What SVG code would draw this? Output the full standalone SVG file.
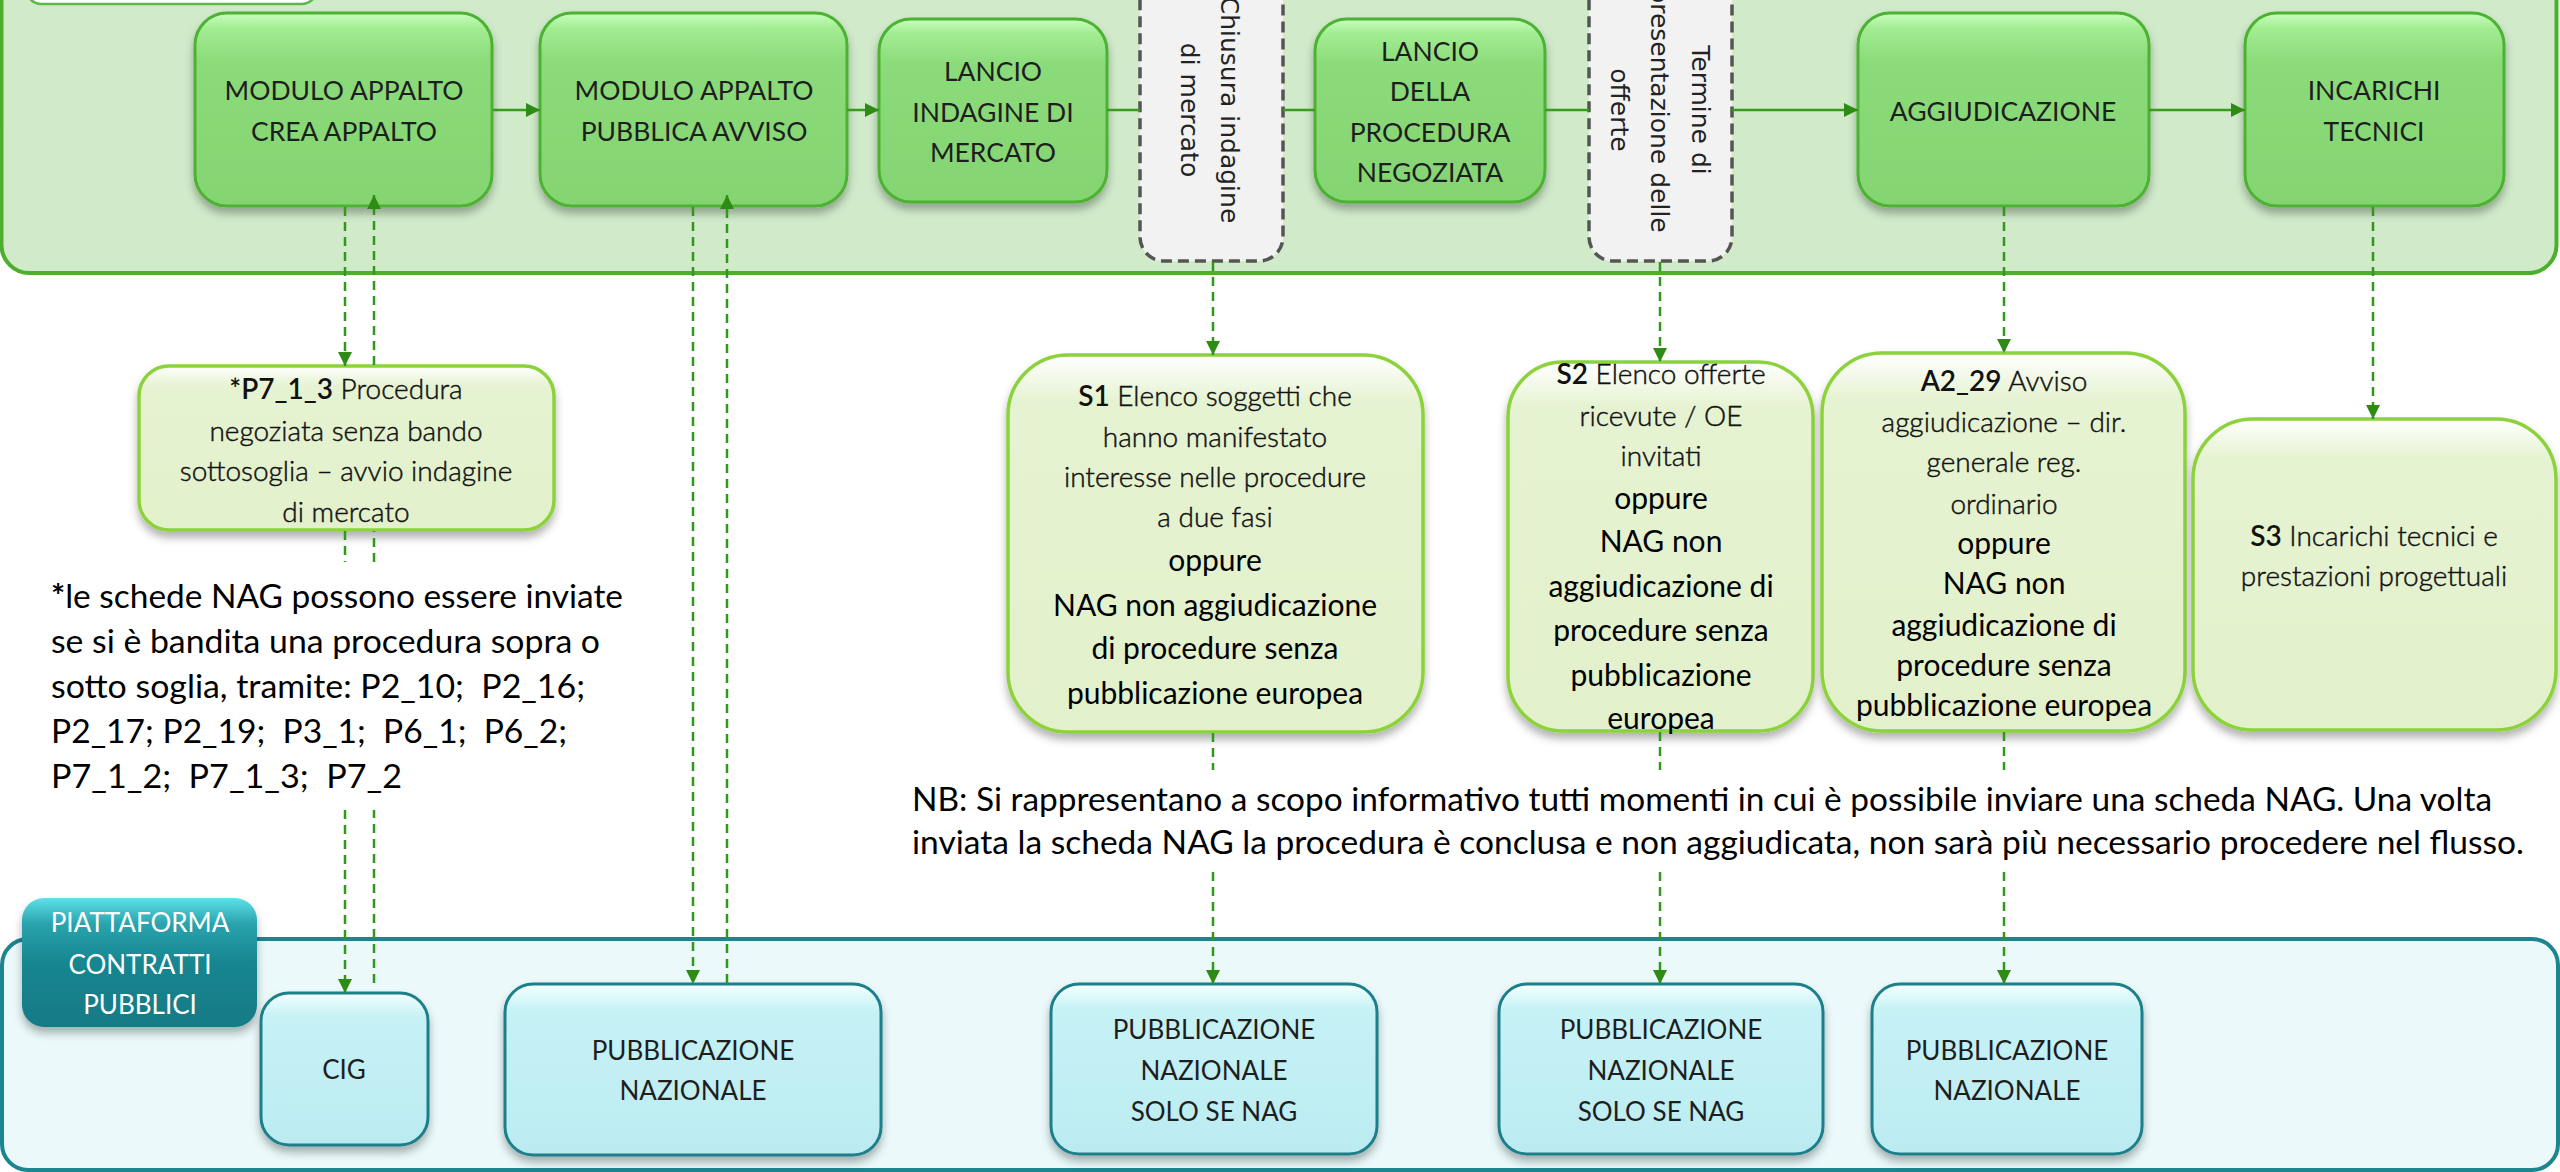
<svg xmlns="http://www.w3.org/2000/svg" width="2560" height="1172" viewBox="0 0 2560 1172">
<defs>
<linearGradient id="gGreen" x1="0" y1="0" x2="0" y2="1">
<stop offset="0" stop-color="#c9ffbf"/><stop offset="0.08" stop-color="#a2ec92"/><stop offset="0.25" stop-color="#8bdb7a"/><stop offset="1" stop-color="#84d472"/>
</linearGradient>
<linearGradient id="gLight" x1="0" y1="0" x2="0" y2="1">
<stop offset="0" stop-color="#ffffff"/><stop offset="0.12" stop-color="#e6f3d2"/><stop offset="1" stop-color="#e2f0cb"/>
</linearGradient>
<linearGradient id="gCyan" x1="0" y1="0" x2="0" y2="1">
<stop offset="0" stop-color="#f5ffff"/><stop offset="0.15" stop-color="#c6f2f6"/><stop offset="1" stop-color="#bbebf1"/>
</linearGradient>
<linearGradient id="gTeal" x1="0" y1="0" x2="0" y2="1">
<stop offset="0" stop-color="#5fe0ea"/><stop offset="0.2" stop-color="#2aa3ad"/><stop offset="0.5" stop-color="#178690"/><stop offset="1" stop-color="#137a85"/>
</linearGradient>
<filter id="shadow" x="-10%" y="-10%" width="120%" height="130%">
<feDropShadow dx="0" dy="6" stdDeviation="4" flood-color="#000" flood-opacity="0.3"/>
</filter>
<marker id="arr" viewBox="0 0 10 10" refX="10" refY="5" markerWidth="14" markerHeight="14" markerUnits="userSpaceOnUse" orient="auto">
<path d="M0,0 L10,5 L0,10 z" fill="#2e8c14"/>
</marker>
<style>
.gbox{fill:url(#gGreen);stroke:#4cb233;stroke-width:3;filter:url(#shadow)}
.lbox{fill:url(#gLight);stroke:#8bd23a;stroke-width:3.5;filter:url(#shadow)}
.cbox{fill:url(#gCyan);stroke:#1b7f8a;stroke-width:3;filter:url(#shadow)}
.dbox{fill:#f2f2f2;stroke:#555;stroke-width:3.5;stroke-dasharray:11 6}
.cap{font-family:Lato,"Liberation Sans",sans-serif;font-size:26.5px;fill:#1e1e1e;text-anchor:middle}
.cap2{font-family:Lato,"Liberation Sans",sans-serif;font-size:26px;fill:#1e1e1e;text-anchor:middle}
.rot{font-family:"DejaVu Sans",Verdana,sans-serif;font-size:25px;fill:#222;text-anchor:middle;dominant-baseline:central}
.lt{font-family:Lato,"Liberation Sans",sans-serif;font-weight:300;font-size:28px;fill:#111;stroke:#111;stroke-width:0.45px;text-anchor:middle}
.rg{font-family:Lato,"Liberation Sans",sans-serif;font-weight:400;font-size:30px;fill:#000;text-anchor:middle}
.note{font-family:Lato,"Liberation Sans",sans-serif;font-size:32px;fill:#000;white-space:pre}
.b{font-weight:600;stroke:none}
.sol{stroke:#3a9a20;stroke-width:2.5;fill:none}
.dsh{stroke:#2f9a1a;stroke-width:2.5;stroke-dasharray:9 6;fill:none}
</style>
</defs>
<rect width="2560" height="1172" fill="#ffffff"/>

<g id="lane-top">
<rect x="1.5" y="-40" width="2555" height="313" rx="28" fill="#d0eaca" stroke="#4caf2e" stroke-width="4"/>
<rect x="27" y="-40" width="289" height="44" rx="14" fill="#ffffff" stroke="#5cb848" stroke-width="2.5"/>
</g>
<g id="lane-bottom">
<rect x="2" y="939" width="2556" height="231" rx="26" fill="#ebf9fa" stroke="#1b8590" stroke-width="4"/>
</g>

<g id="n-modulo-crea">
<rect class="gbox" x="195" y="13" width="297" height="193" rx="32"/>
<text class="cap" x="344" y="100">MODULO APPALTO</text>
<text class="cap" x="344" y="141">CREA APPALTO</text>
</g>
<g id="n-modulo-pubblica">
<rect class="gbox" x="540" y="13" width="307" height="193" rx="32"/>
<text class="cap" x="694" y="100">MODULO APPALTO</text>
<text class="cap" x="694" y="141">PUBBLICA AVVISO</text>
</g>
<g id="n-lancio-indagine">
<rect class="gbox" x="879" y="19" width="228" height="183" rx="32"/>
<text class="cap" x="993" y="81">LANCIO</text>
<text class="cap" x="993" y="122">INDAGINE DI</text>
<text class="cap" x="993" y="162">MERCATO</text>
</g>
<g id="n-chiusura">
<rect class="dbox" x="1140" y="-40" width="143" height="301" rx="24"/>
<text class="rot" transform="translate(1229,110) rotate(90)">Chiusura indagine</text>
<text class="rot" transform="translate(1189,110) rotate(90)">di mercato</text>
</g>
<g id="n-lancio-procedura">
<rect class="gbox" x="1315" y="19" width="230" height="183" rx="32"/>
<text class="cap" x="1430" y="61">LANCIO</text>
<text class="cap" x="1430" y="101">DELLA</text>
<text class="cap" x="1430" y="142">PROCEDURA</text>
<text class="cap" x="1430" y="182">NEGOZIATA</text>
</g>
<g id="n-termine">
<rect class="dbox" x="1589" y="-40" width="143" height="301" rx="24"/>
<text class="rot" transform="translate(1700,110) rotate(90)">Termine di</text>
<text class="rot" transform="translate(1659,110) rotate(90)">presentazione delle</text>
<text class="rot" transform="translate(1619,110) rotate(90)">offerte</text>
</g>
<g id="n-aggiudicazione">
<rect class="gbox" x="1858" y="13" width="291" height="193" rx="32"/>
<text class="cap" x="2003" y="121">AGGIUDICAZIONE</text>
</g>
<g id="n-incarichi">
<rect class="gbox" x="2245" y="13" width="259" height="193" rx="32"/>
<text class="cap" x="2374" y="100">INCARICHI</text>
<text class="cap" x="2374" y="141">TECNICI</text>
</g>

<g id="n-p7">
<rect class="lbox" x="139" y="366" width="415" height="164" rx="30"/>
<text class="lt" x="346" y="399" font-size="29"><tspan class="b">*P7_1_3</tspan> Procedura</text>
<text class="lt" x="346" y="441" font-size="29">negoziata senza bando</text>
<text class="lt" x="346" y="481" font-size="29">sottosoglia – avvio indagine</text>
<text class="lt" x="346" y="522" font-size="29">di mercato</text>
</g>
<g id="n-s1">
<rect class="lbox" x="1008" y="355" width="415" height="377" rx="60"/>
<text class="lt" x="1215" y="406" font-size="30"><tspan class="b">S1</tspan> Elenco soggetti che</text>
<text class="lt" x="1215" y="447" font-size="30">hanno manifestato</text>
<text class="lt" x="1215" y="487" font-size="30">interesse nelle procedure</text>
<text class="lt" x="1215" y="527" font-size="30">a due fasi</text>
<text class="rg" x="1215" y="571" font-size="31">oppure</text>
<text class="rg" x="1215" y="616" font-size="31">NAG non aggiudicazione</text>
<text class="rg" x="1215" y="659" font-size="31">di procedure senza</text>
<text class="rg" x="1215" y="704" font-size="31">pubblicazione europea</text>
</g>
<g id="n-s2">
<rect class="lbox" x="1508" y="362" width="305" height="369" rx="55"/>
<text class="lt" x="1661" y="384" font-size="28.5"><tspan class="b">S2</tspan> Elenco offerte</text>
<text class="lt" x="1661" y="426" font-size="28.5">ricevute / OE</text>
<text class="lt" x="1661" y="466" font-size="28.5">invitati</text>
<text class="rg" x="1661" y="509">oppure</text>
<text class="rg" x="1661" y="552">NAG non</text>
<text class="rg" x="1661" y="597">aggiudicazione di</text>
<text class="rg" x="1661" y="641">procedure senza</text>
<text class="rg" x="1661" y="686">pubblicazione</text>
<text class="rg" x="1661" y="729">europea</text>
</g>
<g id="n-a2">
<rect class="lbox" x="1822" y="353" width="363" height="378" rx="60"/>
<text class="lt" x="2004" y="391"><tspan class="b">A2_29</tspan> Avviso</text>
<text class="lt" x="2004" y="432">aggiudicazione – dir.</text>
<text class="lt" x="2004" y="472">generale reg.</text>
<text class="lt" x="2004" y="514">ordinario</text>
<text class="rg" x="2004" y="554" font-size="28">oppure</text>
<text class="rg" x="2004" y="594" font-size="28">NAG non</text>
<text class="rg" x="2004" y="636" font-size="28">aggiudicazione di</text>
<text class="rg" x="2004" y="676" font-size="28">procedure senza</text>
<text class="rg" x="2004" y="716" font-size="28">pubblicazione europea</text>
</g>
<g id="n-s3">
<rect class="lbox" x="2193" y="419" width="363" height="311" rx="60"/>
<text class="lt" x="2374" y="546"><tspan class="b">S3</tspan> Incarichi tecnici e</text>
<text class="lt" x="2374" y="586">prestazioni progettuali</text>
</g>

<g id="footnote">
<text class="note" x="51" y="608" textLength="572" lengthAdjust="spacingAndGlyphs"><tspan font-weight="700">*</tspan>le schede NAG possono essere inviate</text>
<text class="note" x="51" y="653" textLength="549" lengthAdjust="spacingAndGlyphs">se si è bandita una procedura sopra o</text>
<text class="note" x="51" y="698" textLength="534" lengthAdjust="spacingAndGlyphs">sotto soglia, tramite: P2_10;  P2_16;</text>
<text class="note" x="51" y="743" textLength="516" lengthAdjust="spacingAndGlyphs">P2_17; P2_19;  P3_1;  P6_1;  P6_2;</text>
<text class="note" x="51" y="788" textLength="351" lengthAdjust="spacingAndGlyphs">P7_1_2;  P7_1_3;  P7_2</text>
</g>
<g id="nb">
<text class="note" x="912" y="811" font-size="29" textLength="1580" lengthAdjust="spacingAndGlyphs">NB: Si rappresentano a scopo informativo tutti momenti in cui è possibile inviare una scheda NAG. Una volta</text>
<text class="note" x="912" y="854" font-size="29" textLength="1612" lengthAdjust="spacingAndGlyphs">inviata la scheda NAG la procedura è conclusa e non aggiudicata, non sarà più necessario procedere nel flusso.</text>
</g>

<g id="n-piattaforma">
<rect x="22" y="898" width="235" height="129" rx="22" fill="url(#gTeal)" filter="url(#shadow)"/>
<text class="cap2" x="140" y="932" style="fill:#ffffff">PIATTAFORMA</text>
<text class="cap2" x="140" y="974" style="fill:#ffffff">CONTRATTI</text>
<text class="cap2" x="140" y="1014" style="fill:#ffffff">PUBBLICI</text>
</g>
<g id="n-cig">
<rect class="cbox" x="261" y="993" width="167" height="152" rx="28"/>
<text class="cap2" x="344" y="1079">CIG</text>
</g>
<g id="n-pub1">
<rect class="cbox" x="505" y="984" width="376" height="171" rx="28"/>
<text class="cap2" x="693" y="1060">PUBBLICAZIONE</text>
<text class="cap2" x="693" y="1100">NAZIONALE</text>
</g>
<g id="n-pub-solo1">
<rect class="cbox" x="1051" y="984" width="326" height="170" rx="28"/>
<text class="cap2" x="1214" y="1039">PUBBLICAZIONE</text>
<text class="cap2" x="1214" y="1080">NAZIONALE</text>
<text class="cap2" x="1214" y="1121">SOLO SE NAG</text>
</g>
<g id="n-pub-solo2">
<rect class="cbox" x="1499" y="984" width="324" height="170" rx="28"/>
<text class="cap2" x="1661" y="1039">PUBBLICAZIONE</text>
<text class="cap2" x="1661" y="1080">NAZIONALE</text>
<text class="cap2" x="1661" y="1121">SOLO SE NAG</text>
</g>
<g id="n-pub3">
<rect class="cbox" x="1872" y="984" width="270" height="170" rx="28"/>
<text class="cap2" x="2007" y="1060">PUBBLICAZIONE</text>
<text class="cap2" x="2007" y="1100">NAZIONALE</text>
</g>

<g id="connectors">
<line class="sol" x1="493" y1="110" x2="540" y2="110" marker-end="url(#arr)"/>
<line class="sol" x1="847" y1="110" x2="879" y2="110" marker-end="url(#arr)"/>
<line class="sol" x1="1107" y1="110" x2="1140" y2="110"/>
<line class="sol" x1="1283" y1="110" x2="1315" y2="110"/>
<line class="sol" x1="1545" y1="110" x2="1589" y2="110"/>
<line class="sol" x1="1732" y1="110" x2="1858" y2="110" marker-end="url(#arr)"/>
<line class="sol" x1="2149" y1="110" x2="2245" y2="110" marker-end="url(#arr)"/>
<line class="dsh" x1="345" y1="207" x2="345" y2="366" marker-end="url(#arr)"/>
<line class="dsh" x1="345" y1="531" x2="345" y2="562"/>
<line class="dsh" x1="345" y1="810" x2="345" y2="993" marker-end="url(#arr)"/>
<line class="dsh" x1="374" y1="983" x2="374" y2="810"/>
<line class="dsh" x1="374" y1="562" x2="374" y2="531"/>
<line class="dsh" x1="374" y1="365" x2="374" y2="195" marker-end="url(#arr)"/>
<line class="dsh" x1="693" y1="207" x2="693" y2="984" marker-end="url(#arr)"/>
<line class="dsh" x1="727" y1="983" x2="727" y2="195" marker-end="url(#arr)"/>
<line class="dsh" x1="1213" y1="262" x2="1213" y2="355" marker-end="url(#arr)"/>
<line class="dsh" x1="1213" y1="733" x2="1213" y2="770"/>
<line class="dsh" x1="1213" y1="872" x2="1213" y2="984" marker-end="url(#arr)"/>
<line class="dsh" x1="1660" y1="262" x2="1660" y2="362" marker-end="url(#arr)"/>
<line class="dsh" x1="1660" y1="732" x2="1660" y2="770"/>
<line class="dsh" x1="1660" y1="872" x2="1660" y2="984" marker-end="url(#arr)"/>
<line class="dsh" x1="2004" y1="207" x2="2004" y2="353" marker-end="url(#arr)"/>
<line class="dsh" x1="2004" y1="732" x2="2004" y2="770"/>
<line class="dsh" x1="2004" y1="872" x2="2004" y2="984" marker-end="url(#arr)"/>
<line class="dsh" x1="2373" y1="207" x2="2373" y2="419" marker-end="url(#arr)"/>
</g>
</svg>
